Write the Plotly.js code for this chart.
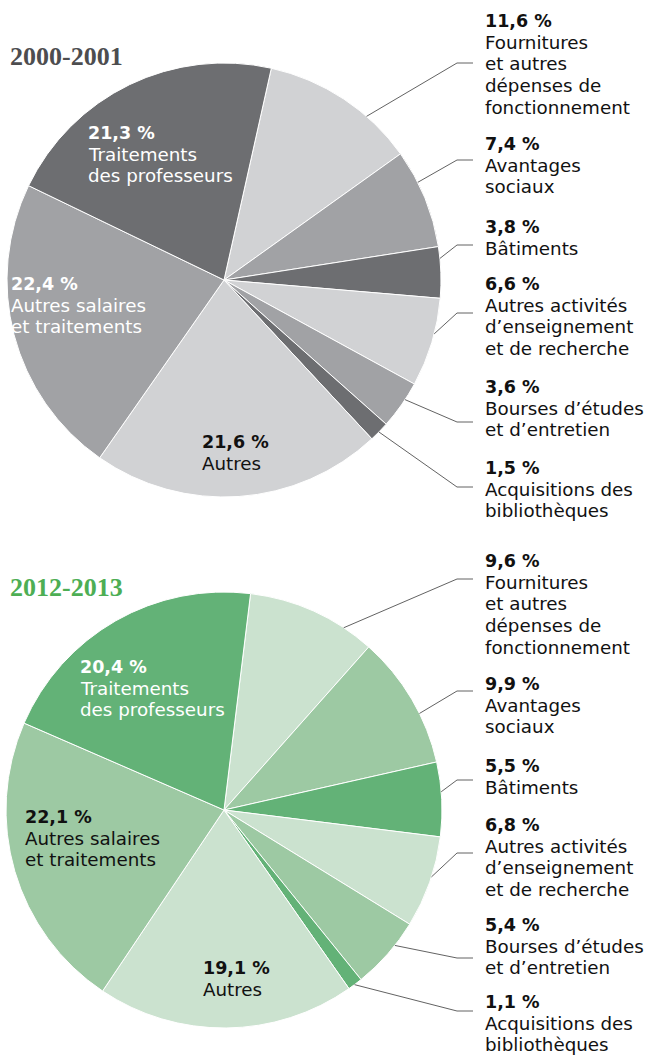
<!DOCTYPE html>
<html><head><meta charset="utf-8">
<script src="https://cdn.plot.ly/plotly-3.0.1.min.js"></script>
<style>html,body{margin:0;padding:0;background:#fff}</style>
</head><body><div id="chart" style="width:645px;height:1057px"></div>
<script>
// ---------- DATA ----------
const categories = [
  "Fournitures\net autres\ndépenses de\nfonctionnement",
  "Avantages\nsociaux",
  "Bâtiments",
  "Autres activités\nd’enseignement\net de recherche",
  "Bourses d’études\net d’entretien",
  "Acquisitions des\nbibliothèques",
  "Autres",
  "Autres salaires\net traitements",
  "Traitements\ndes professeurs"
];
const years = ["2000-2001", "2012-2013"];
const values2000 = [11.6, 7.4, 3.8, 6.6, 3.6, 1.5, 21.6, 22.4, 21.3];
const values2012 = [9.6, 9.9, 5.5, 6.8, 5.4, 1.1, 19.1, 22.1, 20.4];

// ---------- STYLE / LAYOUT ----------
const W = 645, H = 1057;
const FONT = "'DejaVu Sans', sans-serif";
const FS = 18.3, FSB = 17.5, LINE = 21.6;
const greys = ["#d1d2d4", "#a1a2a5", "#6d6e71"];
const greens = ["#cbe2cf", "#9dc9a3", "#63b277"];
const shadeIdx = [0, 1, 2, 0, 1, 2, 0, 1, 2];

const pies = [
  { year: years[0], values: values2000, cx: 224, cy: 280, r: 217, rotation: 12.6,
    palette: greys, titleColor: "#4d4d4f", titleBase: 67,
    outside: [
      { base: 27,  leadY: 63,  frac: 0.68 },
      { base: 150, leadY: 160, frac: 0.33 },
      { base: 233, leadY: 245, frac: 0.23 },
      { base: 290, leadY: 313, frac: 0.40 },
      { base: 393, leadY: 422, frac: 0.37 },
      { base: 474, leadY: 487, frac: 0.52 }
    ],
    inside: { 6: { x: 201, base: 448, color: "#111" }, 7: { x: 10, base: 290, color: "#fff" }, 8: { x: 87, base: 139, color: "#fff" } }
  },
  { year: years[1], values: values2012, cx: 224, cy: 810, r: 218, rotation: 7,
    palette: greens, titleColor: "#4dae54", titleBase: 598,
    outside: [
      { base: 567,  leadY: 579,  frac: 0.76 },
      { base: 690,  leadY: 691,  frac: 0.62 },
      { base: 772,  leadY: 780,  frac: 0.40 },
      { base: 831,  leadY: 853,  frac: 0.44 },
      { base: 931,  leadY: 958,  frac: 0.35 },
      { base: 1008, leadY: 1011, frac: 0.55 }
    ],
    inside: { 6: { x: 202, base: 974, color: "#111" }, 7: { x: 24, base: 823, color: "#111" }, 8: { x: 79, base: 673, color: "#fff" } }
  }
];

const LABEL_X = 484, LEAD_X0 = 457, LEAD_X1 = 473;

const fmt = v => v.toFixed(1).replace(".", ",") + " %";
const px = x => x / W;
const py = y => 1 - y / H;

const data = [], annotations = [], shapes = [];

function addLine(x, base, text, bold, color) {
  const size = bold ? FSB : FS;
  annotations.push({
    xref: "paper", yref: "paper", x: px(x), y: py(base - 0.346 * size),
    xanchor: "left", yanchor: "middle", showarrow: false, borderpad: 0,
    text: bold ? "<b>" + text + "</b>" : text,
    font: { family: FONT, size: size, color: color }
  });
}

function addBlock(x, base, value, label, color) {
  addLine(x, base, fmt(value), true, color);
  label.split("\n").forEach((t, k) => addLine(x, base + LINE * (k + 1), t, false, color));
}

pies.forEach(p => {
  data.push({
    type: "pie", values: p.values, labels: categories.map(c => c.replace(/\n/g, " ")),
    sort: false, direction: "clockwise", rotation: p.rotation,
    textinfo: "none", hoverinfo: "label+percent",
    marker: { colors: shadeIdx.map(i => p.palette[i]), line: { color: "#ffffff", width: 1 } },
    domain: { x: [px(p.cx - p.r), px(p.cx + p.r)], y: [py(p.cy + p.r), py(p.cy - p.r)] },
    showlegend: false
  });

  // title
  annotations.push({
    xref: "paper", yref: "paper", x: px(9), y: py(p.titleBase + 5), xanchor: "left", yanchor: "bottom",
    showarrow: false, borderpad: 0, text: "<b>" + p.year + "</b>",
    font: { family: "'Liberation Serif', 'DejaVu Serif', serif", size: 26, color: p.titleColor }
  });

  const total = p.values.reduce((a, b) => a + b, 0);
  let cum = 0;
  p.values.forEach((v, i) => {
    const a0 = p.rotation + 360 * cum / total;
    const a1 = p.rotation + 360 * (cum + v) / total;
    cum += v;
    if (i < p.outside.length) {
      const o = p.outside[i];
      const ang = (a0 + (a1 - a0) * o.frac) * Math.PI / 180;
      const ex = p.cx + p.r * Math.sin(ang), ey = p.cy - p.r * Math.cos(ang);
      shapes.push({
        type: "path", xref: "paper", yref: "paper",
        path: `M ${px(ex)} ${py(ey)} L ${px(LEAD_X0)} ${py(o.leadY)} L ${px(LEAD_X1)} ${py(o.leadY)}`,
        line: { color: "#3a3a3a", width: 0.8 }
      });
      addBlock(LABEL_X, o.base, v, categories[i], "#111");
    } else if (p.inside[i]) {
      const s = p.inside[i];
      addBlock(s.x, s.base, v, categories[i], s.color);
    }
  });
});

const layout = {
  width: W, height: H, margin: { l: 0, r: 0, t: 0, b: 0 },
  paper_bgcolor: "#ffffff", plot_bgcolor: "#ffffff",
  showlegend: false, annotations: annotations, shapes: shapes
};
Plotly.newPlot("chart", data, layout, { displayModeBar: false, staticPlot: true });
</script></body></html>
